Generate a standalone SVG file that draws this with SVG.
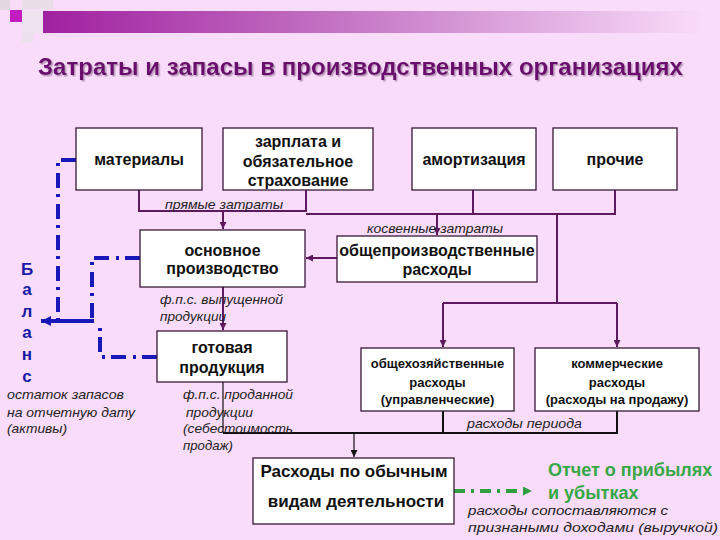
<svg xmlns="http://www.w3.org/2000/svg" width="720" height="540" viewBox="0 0 720 540">
<defs>
<linearGradient id="bar" x1="0" y1="0" x2="1" y2="0">
<stop offset="0" stop-color="#A020A0"/>
<stop offset="0.5" stop-color="#C87EC8"/>
<stop offset="1" stop-color="#F9DCF9"/>
</linearGradient>
<filter id="shadow" x="-5%" y="-30%" width="110%" height="160%">
<feDropShadow dx="1.5" dy="1.5" stdDeviation="0.6" flood-color="#A080A0" flood-opacity="0.7"/>
</filter>
<marker id="ap" viewBox="0 0 8 8" refX="8" refY="4" markerWidth="7" markerHeight="7" markerUnits="userSpaceOnUse" orient="auto"><path d="M0,0 L8,4 L0,8 z" fill="#5E1A5E"/></marker>
<marker id="ak" viewBox="0 0 8 8" refX="8" refY="4" markerWidth="7" markerHeight="7" markerUnits="userSpaceOnUse" orient="auto"><path d="M0,0 L8,4 L0,8 z" fill="#111"/></marker>
<marker id="ab" viewBox="0 0 10 10" refX="10" refY="5" markerWidth="11" markerHeight="10" markerUnits="userSpaceOnUse" orient="auto"><path d="M0,0 L10,5 L0,10 z" fill="#1818B8"/></marker>
<marker id="ag" viewBox="0 0 10 10" refX="10" refY="5" markerWidth="9" markerHeight="9" markerUnits="userSpaceOnUse" orient="auto"><path d="M0,0 L10,5 L0,10 z" fill="#2FA040"/></marker>
</defs>
<style>
.box{fill:#fff;stroke:#3A1838;stroke-width:1.3}
.t{font-family:"Liberation Sans",Arial,sans-serif;font-weight:bold;fill:#111;text-anchor:middle}
.t16{font-size:16px}
.t13{font-size:13px}
.it{font-family:"Liberation Sans",Arial,sans-serif;font-style:italic;font-size:13px;fill:#222}
.pc{fill:none;stroke:#5E1A5E;stroke-width:2}
.bk{fill:none;stroke:#111;stroke-width:2}
.bk1{fill:none;stroke:#111;stroke-width:1.2}
.bd{fill:none;stroke:#1818B8;stroke-width:4;stroke-dasharray:15 6 3 7}
.gd{fill:none;stroke:#2FA040;stroke-width:4;stroke-dasharray:11 6 3 6}
.bal{font-family:"Liberation Sans",Arial,sans-serif;font-weight:bold;font-size:17px;fill:#1A1AA6;text-anchor:middle}
</style>
<rect width="720" height="540" fill="#F9DCF9"/>
<g id="decor">
<rect x="0" y="0" width="10" height="10" fill="#E2D8E2"/>
<rect x="22" y="0" width="31" height="9" fill="#E8DEE8"/>
<rect x="22" y="10" width="21" height="23" fill="#EEE2EE"/>
<rect x="22" y="33" width="11" height="10" fill="#EBE0EB"/>
<rect x="10" y="10" width="12" height="12" fill="#C01CC0"/>
<rect x="43" y="11" width="660" height="22" fill="url(#bar)"/>
</g>
<g id="title">
<text x="360.5" y="75" font-family="Liberation Sans,Arial,sans-serif" font-weight="bold" font-size="24" fill="#6B0E6E" text-anchor="middle" textLength="645" lengthAdjust="spacingAndGlyphs" filter="url(#shadow)">Затраты и запасы в производственных организациях</text>
</g>
<g id="connectors">
<path class="pc" d="M139,190 V211 H306 V190"/>
<path class="pc" d="M223,211 V229" marker-end="url(#ap)"/>
<path class="pc" d="M473,190 V214 H615 V190"/>
<path class="pc" d="M306,214 H473"/>
<path class="pc" d="M437,214 V235" marker-end="url(#ap)"/>
<path class="pc" d="M557,214 V303"/>
<path class="pc" d="M443,303 H617"/>
<path class="pc" d="M443,303 V347" marker-end="url(#ap)"/>
<path class="pc" d="M617,303 V347" marker-end="url(#ap)"/>
<path class="pc" d="M337,258 H306" marker-end="url(#ap)"/>
<path class="pc" d="M223,287 V330" marker-end="url(#ap)"/>
<path class="bk1" d="M223,382 V433"/>
<path class="bk" d="M443,411 V433 M617,411 V433 M223,433 H618"/>
<path class="bk1" d="M354,433 V457" marker-end="url(#ak)"/>
<path class="bd" d="M76,160 H58 V319"/>
<path class="bd" d="M140,258 H92 V319"/>
<path class="bd" d="M157,357 H100 V324"/>
<path d="M94,321 H41" fill="none" stroke="#1818B8" stroke-width="4" marker-end="url(#ab)"/>
<path class="gd" d="M454,491 H532" marker-end="url(#ag)"/>
</g>
<g id="materialy"><rect class="box" x="76" y="128" width="126" height="62"/><text class="t t16" x="139" y="165">материалы</text></g>
<g id="zarplata"><rect class="box" x="223" y="128" width="150" height="62"/><text class="t t16" x="298" y="147">зарплата и</text><text class="t t16" x="298" y="167">обязательное</text><text class="t t16" x="298" y="186">страхование</text></g>
<g id="amortizaciya"><rect class="box" x="412" y="128" width="124" height="62"/><text class="t t16" x="474" y="165">амортизация</text></g>
<g id="prochie"><rect class="box" x="553" y="128" width="124" height="62"/><text class="t t16" x="615" y="165">прочие</text></g>
<g id="osnovnoe"><rect class="box" x="140" y="230" width="165" height="57"/><text class="t t16" x="222.5" y="256">основное</text><text class="t t16" x="222.5" y="274">производство</text></g>
<g id="obshchepr"><rect class="box" x="337" y="236" width="200" height="46"/><text class="t t16" x="437" y="256">общепроизводственные</text><text class="t t16" x="437" y="275">расходы</text></g>
<g id="gotovaya"><rect class="box" x="157" y="331" width="130" height="51"/><text class="t t16" x="222" y="353">готовая</text><text class="t t16" x="222" y="373">продукция</text></g>
<g id="obshchekhoz"><rect class="box" x="361" y="348" width="153" height="63"/><text class="t t13" x="437.5" y="368">общехозяйственные</text><text class="t t13" x="437.5" y="387">расходы</text><text class="t t13" x="437.5" y="404">(управленческие)</text></g>
<g id="kommerch"><rect class="box" x="535" y="348" width="164" height="63"/><text class="t t13" x="617" y="368">коммерческие</text><text class="t t13" x="617" y="387">расходы</text><text class="t t13" x="617" y="404">(расходы на продажу)</text></g>
<g id="raskhody"><rect class="box" x="253" y="458" width="201" height="66"/><text class="t" font-size="17" x="354" y="477">Расходы по обычным</text><text class="t" font-size="17" x="356" y="507">видам деятельности</text></g>
<g id="otchet"><text font-family="Liberation Sans,Arial,sans-serif" font-weight="bold" font-size="18" fill="#35A845" x="548" y="476">Отчет о прибылях</text><text font-family="Liberation Sans,Arial,sans-serif" font-weight="bold" font-size="18" fill="#35A845" x="548" y="499">и убытках</text></g>
<g id="balans">
<text class="bal" x="27" y="275">Б</text><text class="bal" x="27" y="295">а</text><text class="bal" x="27" y="317">л</text><text class="bal" x="27" y="338">а</text><text class="bal" x="27" y="360">н</text><text class="bal" x="27" y="382">с</text>
</g>
<g id="labels">
<text class="it" x="165" y="209" textLength="118" lengthAdjust="spacingAndGlyphs">прямые затраты</text>
<text class="it" x="367" y="233" textLength="136" lengthAdjust="spacingAndGlyphs">косвенные затраты</text>
<text class="it" x="160" y="304" textLength="123" lengthAdjust="spacingAndGlyphs">ф.п.с. выпущенной</text>
<text class="it" x="160" y="321" textLength="66" lengthAdjust="spacingAndGlyphs">продукции</text>
<text class="it" x="7" y="399" textLength="117" lengthAdjust="spacingAndGlyphs">остаток запасов</text>
<text class="it" x="7" y="417" textLength="128" lengthAdjust="spacingAndGlyphs">на отчетную дату</text>
<text class="it" x="7" y="433" textLength="60" lengthAdjust="spacingAndGlyphs">(активы)</text>
<text class="it" x="183" y="399" textLength="110" lengthAdjust="spacingAndGlyphs">ф.п.с. проданной</text>
<text class="it" x="186" y="417" textLength="67" lengthAdjust="spacingAndGlyphs">продукции</text>
<text class="it" x="183" y="433" textLength="110" lengthAdjust="spacingAndGlyphs">(себестоимость</text>
<text class="it" x="183" y="450" textLength="50" lengthAdjust="spacingAndGlyphs">продаж)</text>
<text class="it" x="467" y="428" textLength="115" lengthAdjust="spacingAndGlyphs">расходы периода</text>
<text class="it" x="468" y="515" textLength="200" lengthAdjust="spacingAndGlyphs">расходы сопоставляются с</text>
<text class="it" x="468" y="532" textLength="250" lengthAdjust="spacingAndGlyphs">признаными доходами (выручкой)</text>
</g>
</svg>
